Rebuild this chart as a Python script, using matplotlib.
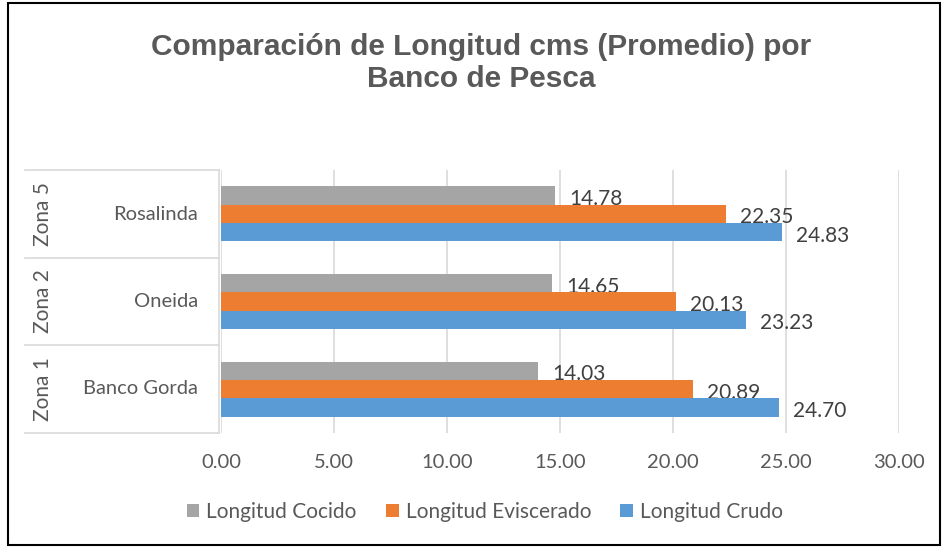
import numpy as np
import matplotlib.pyplot as plt
from matplotlib.patches import Patch, Rectangle
from matplotlib.lines import Line2D

plt.rcParams['font.family'] = ['Lato', 'DejaVu Sans']

# categories, bottom to top (as Excel draws them)
zonas = ['Zona 1', 'Zona 2', 'Zona 5']
bancos = ['Banco Gorda', 'Oneida', 'Rosalinda']

series = ['Longitud Cocido', 'Longitud Eviscerado', 'Longitud Crudo']
cocido = [14.03, 14.65, 14.78]
eviscerado = [20.89, 20.13, 22.35]
crudo = [24.70, 23.23, 24.83]
colores = ['#a5a5a5', '#ed7d31', '#5b9bd5']

x_ticks = np.arange(0, 35, 5)

W, H = 945, 548
fig = plt.figure(figsize=(W / 100, H / 100), dpi=100)

# outer chart border
fig.add_artist(Rectangle((8 / W, 3 / H), (940 - 8) / W, (545 - 3) / H,
                         transform=fig.transFigure, fill=False,
                         edgecolor='black', linewidth=1.5))

ax = fig.add_axes([221 / W, 1 - 433 / H, 678 / W, 263 / H])

y = np.arange(len(bancos))
h = 0.21
valores = [cocido, eviscerado, crudo]
offsets = [h, 0, -h]
for vals, off, col, name in zip(valores, offsets, colores, series):
    ax.barh(y + off, vals, height=h, color=col, label=name, zorder=3)
    for yi, v in zip(y, vals):
        ax.annotate(f'{v:.2f}', (v, yi + off), xytext=(10, -2.5),
                    textcoords='offset points', va='center', ha='left',
                    fontsize=15, color='#404040')

ax.set_xlim(0, 30)
ax.set_ylim(-0.5, len(bancos) - 0.5)
ax.set_xticks(x_ticks)
ax.set_xticklabels([f'{t:.2f}' for t in x_ticks], fontsize=14.5, color='#595959')
ax.tick_params(axis='x', length=0, pad=15)
ax.set_yticks([])
ax.grid(axis='x', color='#d9d9d9', linewidth=1.2, zorder=0)
for s in ax.spines.values():
    s.set_visible(False)

# category table on the left
lc = '#d9d9d9'
x0, x1 = 25 / W, 219 / W
y_lines = [170, 258, 345, 433]
for yl in y_lines:
    fig.add_artist(Line2D([x0, x1], [1 - yl / H] * 2, color=lc, linewidth=1.2))
fig.add_artist(Line2D([x1, x1], [1 - 433 / H, 1 - 170 / H], color=lc, linewidth=1.2))
for i, (z, b) in enumerate(zip(zonas, bancos)):
    yc = 1 - (y_lines[len(bancos) - i] + y_lines[len(bancos) - i - 1]) / 2 / H
    fig.text(43 / W, yc, z, rotation=90, ha='center', va='center',
             fontsize=15, color='#595959')
    fig.text(198 / W, yc, b, ha='right', va='center',
             fontsize=14.5, color='#595959')

fig.text(0.5 * (150 + 813) / W, 1 - 63 / H,
         'Comparación de Longitud cms (Promedio) por\nBanco de Pesca',
         ha='center', va='center', fontsize=21.5, fontweight='bold',
         color='#595959', family='Liberation Sans', linespacing=1.2)

handles = [Patch(facecolor=c, edgecolor='none') for c in colores]
fig.legend(handles, series, loc='center', bbox_to_anchor=(485 / W, 1 - 512 / H),
           ncol=3, frameon=False, fontsize=15, handlelength=0.6,
           handleheight=0.6, handletextpad=0.35, columnspacing=1.4,
           labelcolor='#595959')

fig.savefig('out.png', dpi=100)
